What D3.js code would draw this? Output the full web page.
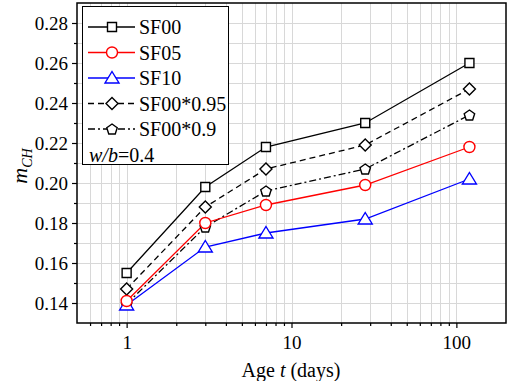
<!DOCTYPE html>
<html>
<head>
<meta charset="utf-8">
<script src="https://cdn.jsdelivr.net/npm/d3@7"></script>
<style>
  body { margin: 0; background: #fff; }
  svg text { font-family: "Liberation Serif", "DejaVu Serif", serif; }
</style>
</head>
<body>
<svg id="chart" width="510" height="381"></svg>
<script>
// ages (days) and m_CH values
var ages = [1, 3, 7, 28, 120];
var sf00 = [0.155, 0.198, 0.218, 0.230, 0.260];
var sf05 = [0.141, 0.180, 0.189, 0.199, 0.218];
var sf10 = [0.139, 0.168, 0.175, 0.182, 0.202];
var sf00x95 = [0.147, 0.188, 0.207, 0.219, 0.247];
var sf00x90 = [0.1395, 0.178, 0.196, 0.207, 0.234];
var yTicks = [0.14, 0.16, 0.18, 0.20, 0.22, 0.24, 0.26, 0.28];
var xTicks = [1, 10, 100];

var series = [
  { name: "SF00", values: sf00, color: "#000", dash: null, marker: "square" },
  { name: "SF05", values: sf05, color: "#ff0000", dash: null, marker: "circle" },
  { name: "SF10", values: sf10, color: "#0000ff", dash: null, marker: "triangle" },
  { name: "SF00*0.95", values: sf00x95, color: "#000", dash: "6,4", marker: "diamond" },
  { name: "SF00*0.9", values: sf00x90, color: "#000", dash: "7,3,2,3", marker: "pentagon" }
];

function drawChart() {
  var left = 77, right = 506, plotTop = 3, bottom = 323;
  var serif = "'Liberation Serif', 'DejaVu Serif', serif";
  var svg = d3.select("#chart");

  var x = d3.scaleLog().domain([0.5, 200]).range([left, right]);
  var y = d3.scaleLinear().domain([0.13, 0.29]).range([bottom, plotTop]);

  // grid (minor log ticks and 0.01 steps)
  var logTicks = [];
  [0.1, 1, 10, 100].forEach(function(d) {
    for (var k = 1; k < 10; k++) {
      var v = d * k;
      if (v > 0.5 && v < 200) logTicks.push(v);
    }
  });
  var yGrid = d3.range(0.14, 0.2851, 0.01);

  var grid = svg.append("g").attr("stroke", "#d8d8d8").attr("stroke-width", 1);
  grid.selectAll(".gx").data(logTicks).enter().append("line")
    .attr("x1", function(d) { return Math.round(x(d)) + 0.5; })
    .attr("x2", function(d) { return Math.round(x(d)) + 0.5; })
    .attr("y1", plotTop).attr("y2", bottom);
  grid.selectAll(".gy").data(yGrid).enter().append("line")
    .attr("y1", function(d) { return Math.round(y(d)) + 0.5; })
    .attr("y2", function(d) { return Math.round(y(d)) + 0.5; })
    .attr("x1", left).attr("x2", right);

  // frame
  svg.append("rect")
    .attr("x", left).attr("y", plotTop)
    .attr("width", right - left).attr("height", bottom - plotTop)
    .attr("fill", "none").attr("stroke", "#000").attr("stroke-width", 1.5);

  // axes
  svg.append("g").attr("transform", "translate(0," + bottom + ")")
    .call(d3.axisBottom(x).tickValues(xTicks).tickFormat(d3.format("d")).tickSize(5).tickPadding(8));
  svg.append("g").attr("transform", "translate(0," + bottom + ")")
    .call(d3.axisBottom(x).tickValues(logTicks.filter(function(d) { return xTicks.indexOf(d) < 0; }))
      .tickFormat("").tickSize(3));
  svg.append("g").attr("transform", "translate(" + left + ",0)")
    .call(d3.axisLeft(y).tickValues(yTicks).tickFormat(d3.format(".2f")).tickSize(5).tickPadding(4));
  svg.append("g").attr("transform", "translate(" + left + ",0)")
    .call(d3.axisLeft(y).tickValues(d3.range(0.15, 0.2851, 0.02)).tickFormat("").tickSize(3));

  svg.selectAll(".domain").remove();
  svg.selectAll(".tick line").attr("stroke", "#000").attr("stroke-width", 1.2);
  svg.selectAll(".tick text").attr("fill", "#000")
    .style("font-size", "19px").style("font-family", serif);

  // axis labels
  var xl = svg.append("text").attr("x", 291).attr("y", 377)
    .attr("text-anchor", "middle").style("font-size", "20px").style("font-family", serif);
  xl.append("tspan").text("Age ");
  xl.append("tspan").style("font-style", "italic").text("t");
  xl.append("tspan").text(" (days)");

  var yl = svg.append("text").attr("transform", "translate(27,166) rotate(-90)")
    .attr("text-anchor", "middle").style("font-size", "22px").style("font-family", serif);
  yl.append("tspan").style("font-style", "italic").text("m");
  yl.append("tspan").style("font-style", "italic").style("font-size", "14px").attr("dy", 5).text("CH");

  // marker shapes
  function markerPath(type) {
    if (type === "square") return "M-4.5,-4.5H4.5V4.5H-4.5Z";
    if (type === "triangle") return "M0,-6.5L7,5L-7,5Z";
    if (type === "diamond") return "M0,-6L6,0L0,6L-6,0Z";
    if (type === "pentagon") {
      var pts = d3.range(5).map(function(i) {
        var a = -Math.PI / 2 + i * 2 * Math.PI / 5;
        return [5.5 * Math.cos(a), 5.5 * Math.sin(a) + 0.5];
      });
      return "M" + pts.join("L") + "Z";
    }
    return null;
  }
  function drawMarker(g, s, cx, cy) {
    if (s.marker === "circle") {
      g.append("circle").attr("cx", cx).attr("cy", cy).attr("r", 5.5)
        .attr("fill", "#fff").attr("stroke", s.color).attr("stroke-width", 1.4);
    } else {
      g.append("path").attr("d", markerPath(s.marker))
        .attr("transform", "translate(" + cx + "," + cy + ")")
        .attr("fill", "#fff").attr("stroke", s.color).attr("stroke-width", 1.4);
    }
  }

  var line = d3.line()
    .x(function(d, i) { return x(ages[i]); })
    .y(function(d) { return y(d); });

  // dashed ones first, then solid on top
  var order = [4, 3, 2, 1, 0];
  order.forEach(function(k) {
    var s = series[k];
    svg.append("path").attr("d", line(s.values))
      .attr("fill", "none").attr("stroke", s.color).attr("stroke-width", 1.3)
      .attr("stroke-dasharray", s.dash);
  });
  order.forEach(function(k) {
    var s = series[k];
    var g = svg.append("g");
    s.values.forEach(function(v, i) { drawMarker(g, s, x(ages[i]), y(v)); });
  });

  // legend
  var lg = svg.append("g");
  lg.append("rect").attr("x", 82.5).attr("y", 6.5).attr("width", 146).attr("height", 158)
    .attr("fill", "#fff").attr("stroke", "#000").attr("stroke-width", 1);
  series.forEach(function(s, i) {
    var ly = 27 + i * 25.5;
    lg.append("line").attr("x1", 88).attr("x2", 135).attr("y1", ly).attr("y2", ly)
      .attr("stroke", s.color).attr("stroke-width", 1.3).attr("stroke-dasharray", s.dash);
    drawMarker(lg, s, 112, ly);
    lg.append("text").attr("x", 139).attr("y", ly + 7)
      .style("font-size", "20px").style("font-family", serif).text(s.name);
  });
  var wb = lg.append("text").attr("x", 89).attr("y", 162)
    .style("font-size", "20px").style("font-family", serif);
  wb.append("tspan").style("font-style", "italic").text("w/b");
  wb.append("tspan").text("=0.4");
}

drawChart();
</script>
</body>
</html>
